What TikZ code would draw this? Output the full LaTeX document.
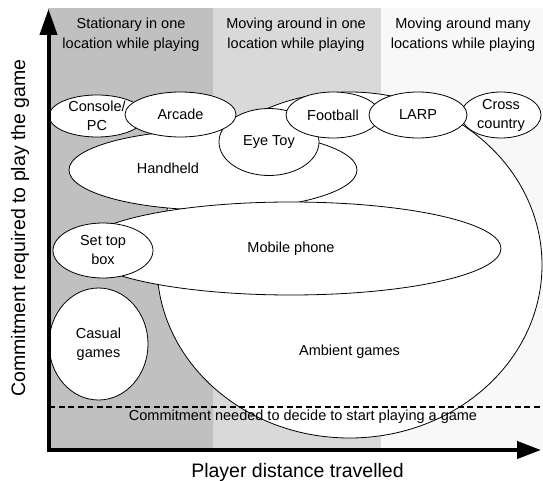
\documentclass[tikz,border=0pt]{standalone}
\usepackage{fontspec}
\setmainfont{Liberation Sans}
\usetikzlibrary{shapes.geometric,arrows.meta}
\definecolor{zonedark}{RGB}{192,192,192}
\definecolor{zonemid}{RGB}{217,217,217}
\definecolor{zonelight}{RGB}{248,248,248}

\begin{document}
\begin{tikzpicture}[x=1pt, y=-1pt,
    font=\fontsize{14.5}{19}\selectfont,
    blob/.style={ellipse, draw, fill=white, line width=0.8pt, inner sep=0pt, align=center},
    zonetext/.style={align=center, font=\fontsize{14.5}{20}\selectfont},
    axistext/.style={font=\fontsize{19.5}{23}\selectfont},
    axisline/.style={line width=4pt, line join=miter,
      {Triangle[length=26pt,width=17pt]}-{Triangle[length=24pt,width=17pt]}}]
  \useasboundingbox (0,0) rectangle (543,481);
  % zones
  \fill[zonedark] (48,8) rectangle (213,450);
  \fill[zonemid] (213,8) rectangle (381,450);
  \fill[zonelight] (381,8) rectangle (543,450);
  \node[zonetext] (stat) at (131,35) {Stationary in one\\location while playing};
  \node[zonetext] (movone) at (296,35) {Moving around in one\\location while playing};
  \node[zonetext] (movmany) at (463,35) {Moving around many\\locations while playing};
  % games
  \node[blob, minimum width=385pt, minimum height=346pt,
    label={[yshift=-87pt]center:Ambient games}] (ambient) at (349.5,265) {};
  \node[blob, minimum width=288pt, minimum height=80pt,
    label={[xshift=-45pt, yshift=2pt]center:Handheld}] (handheld) at (213,170) {};
  \node[blob, minimum width=420pt, minimum height=93pt] (mobile) at (291,248.5) {Mobile phone};
  \node[blob, minimum width=100pt, minimum height=67pt] (eyetoy) at (269,142) {Eye Toy};
  \node[blob, minimum width=96pt, minimum height=42pt] (console) at (97,116) {Console/\\PC};
  \node[blob, minimum width=111pt, minimum height=45pt] (arcade) at (180.5,114.5) {Arcade};
  \node[blob, minimum width=94pt, minimum height=46pt] (football) at (333,115) {Football};
  \node[blob, minimum width=80pt, minimum height=46pt] (cross) at (501,115) {Cross\\country};
  \node[blob, minimum width=98pt, minimum height=46pt] (larp) at (418,115) {LARP};
  \node[blob, minimum width=100pt, minimum height=55pt] (settop) at (103,250.5) {Set top\\box};
  \node[blob, minimum width=99pt, minimum height=112pt] (casual) at (98.5,344) {Casual\\games};
  % threshold
  \coordinate (dashl) at (49,407);
  \coordinate (dashr) at (543,407);
  \draw[line width=1.5pt, dash pattern=on 6pt off 3.5pt] (dashl) -- (dashr);
  \node (needed) at (303,417) {Commitment needed to decide to start playing a game};
  % axes
  \coordinate (ytip) at (48.5,9);
  \coordinate (orig) at (48.5,450);
  \coordinate (xtip) at (541,450);
  \draw[axisline] (ytip) -- (orig) -- (xtip);
  \node[axistext] (xlab) at (297.5,472) {Player distance travelled};
  \node[axistext, rotate=90] (ylab) at (20,228) {Commitment required to play the game};
\end{tikzpicture}
\end{document}
